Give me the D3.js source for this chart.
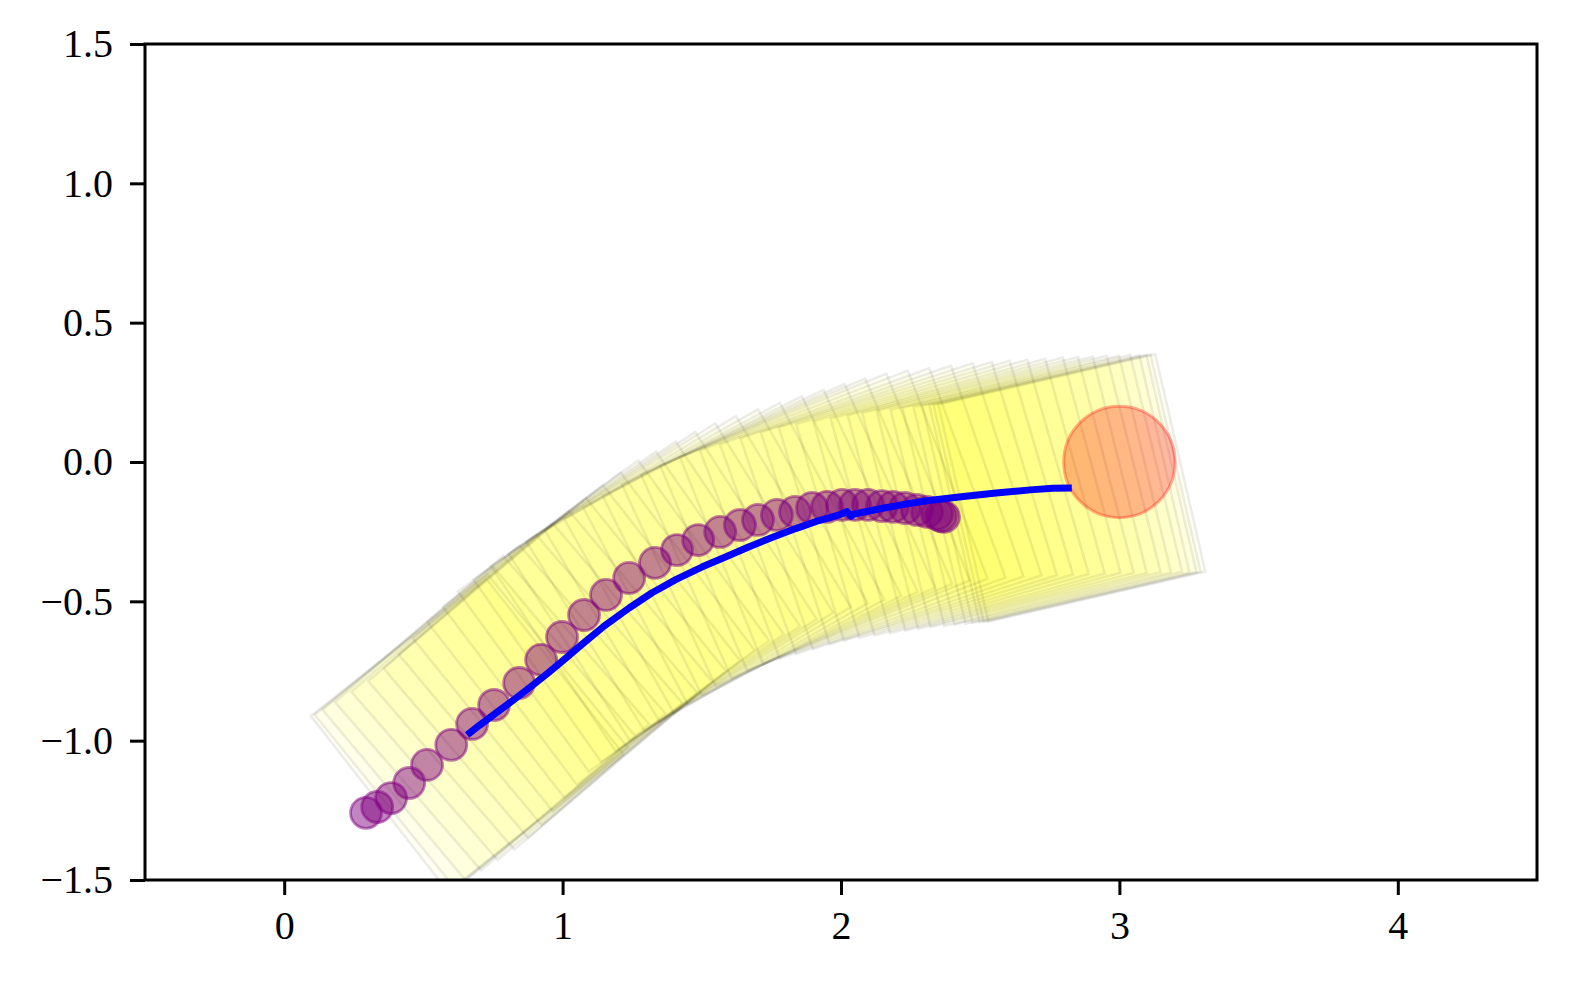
<!DOCTYPE html>
<html>
<head>
<meta charset="utf-8">
<script src="https://cdn.jsdelivr.net/npm/d3@7"></script>
<style>
  html, body { margin: 0; padding: 0; background: #ffffff; }
  svg { display: block; }
</style>
</head>
<body>
<svg id="chart" width="1570" height="982"></svg>
<script>
// ---------------- data ----------------
const xTicks = [0, 1, 2, 3, 4];
const yTicks = [-1.5, -1.0, -0.5, 0.0, 0.5, 1.0, 1.5];
const xDomain = [-0.5, 4.5];
const yDomain = [-1.5, 1.5];

// robot centre trajectory (blue line)
const pathX = [0.657, 0.700, 0.760, 0.825, 0.890, 0.950, 1.010, 1.070, 1.150, 1.239, 1.320, 1.408, 1.500, 1.587, 1.670, 1.752, 1.840, 1.921, 1.990, 2.022, 2.036, 2.045, 2.150, 2.233, 2.316, 2.440, 2.557, 2.680, 2.760, 2.829];
const pathY = [-0.980, -0.946, -0.901, -0.853, -0.803, -0.755, -0.705, -0.654, -0.588, -0.524, -0.470, -0.421, -0.377, -0.340, -0.304, -0.271, -0.238, -0.210, -0.191, -0.178, -0.195, -0.187, -0.166, -0.151, -0.138, -0.124, -0.111, -0.100, -0.094, -0.093];

// robot poses (square body frames)
const robotX = [0.657, 0.672, 0.701, 0.747, 0.806, 0.866, 0.921, 0.974, 1.025, 1.076, 1.130, 1.183, 1.237, 1.298, 1.359, 1.421, 1.486, 1.551, 1.615, 1.680, 1.744, 1.810, 1.875, 1.942, 2.010, 2.078, 2.147, 2.216, 2.276, 2.336, 2.395, 2.455, 2.514, 2.564, 2.613, 2.663, 2.703, 2.743, 2.772, 2.797, 2.812, 2.829];
const robotY = [-0.980, -0.966, -0.938, -0.901, -0.864, -0.826, -0.785, -0.739, -0.692, -0.644, -0.598, -0.553, -0.520, -0.482, -0.446, -0.413, -0.384, -0.356, -0.329, -0.301, -0.273, -0.248, -0.225, -0.204, -0.189, -0.176, -0.163, -0.150, -0.141, -0.134, -0.128, -0.122, -0.115, -0.111, -0.107, -0.104, -0.101, -0.098, -0.097, -0.095, -0.094, -0.093];
const robotHeading = [38, 39, 40, 41, 41, 41, 40.5, 40, 39, 38, 37, 36, 35, 34, 33, 32, 31, 29.5, 28, 26.5, 25, 24, 23, 22, 21, 20, 19, 18, 17, 16.5, 16, 15.5, 15, 14.5, 14, 14, 13.5, 13.5, 13, 13, 13, 13];
const robotSize = 0.8;

// tracked point trail (purple circles)
const trailX = [0.294, 0.334, 0.384, 0.449, 0.513, 0.600, 0.675, 0.754, 0.844, 0.923, 0.998, 1.077, 1.156, 1.239, 1.332, 1.411, 1.487, 1.566, 1.637, 1.702, 1.770, 1.835, 1.896, 1.950, 2.004, 2.050, 2.097, 2.147, 2.187, 2.230, 2.273, 2.309, 2.345, 2.359, 2.370];
const trailY = [-1.259, -1.238, -1.206, -1.152, -1.087, -1.015, -0.940, -0.872, -0.793, -0.710, -0.628, -0.549, -0.477, -0.416, -0.362, -0.316, -0.280, -0.251, -0.226, -0.208, -0.190, -0.179, -0.165, -0.161, -0.154, -0.154, -0.154, -0.158, -0.161, -0.165, -0.172, -0.179, -0.187, -0.194, -0.197];

// goal
const goalX = [3.0];
const goalY = [0.0];
const goalR = [0.2];

// ---------------- layout ----------------
const M = { left: 145, right: 1537, top: 44, bottom: 880 };
const svg = d3.select('#chart');
const x = d3.scaleLinear().domain(xDomain).range([M.left, M.right]);
const y = d3.scaleLinear().domain(yDomain).range([M.bottom, M.top]);

svg.append('defs').append('clipPath').attr('id', 'plotclip')
  .append('rect').attr('x', M.left).attr('y', M.top)
  .attr('width', M.right - M.left).attr('height', M.bottom - M.top);

const plot = svg.append('g').attr('clip-path', 'url(#plotclip)');

// robot frames
const frames = robotX.map((cx, i) => ({ cx, cy: robotY[i], th: robotHeading[i] * Math.PI / 180 }));
const h = robotSize / 2;
const local = [[-h, -h], [h, -h], [h, h], [-h, h]];
plot.append('g').selectAll('polygon').data(frames).join('polygon')
  .attr('points', d => local.map(([lx, ly]) => {
      const px = d.cx + lx * Math.cos(d.th) - ly * Math.sin(d.th);
      const py = d.cy + lx * Math.sin(d.th) + ly * Math.cos(d.th);
      return x(px) + ',' + y(py);
    }).join(' '))
  .attr('fill', '#ffff00').attr('fill-opacity', 0.042)
  .attr('stroke', '#000000').attr('stroke-opacity', 0.075)
  .attr('stroke-width', 2.6).attr('stroke-linejoin', 'miter');

// goal circle
const rPx = d => x(d) - x(0);
plot.append('g').selectAll('circle').data(goalX.map((gx, i) => ({ gx, gy: goalY[i], r: goalR[i] })))
  .join('circle')
  .attr('cx', d => x(d.gx)).attr('cy', d => y(d.gy)).attr('r', d => rPx(d.r))
  .attr('fill', '#ff0000').attr('fill-opacity', 0.28)
  .attr('stroke', '#ff0000').attr('stroke-opacity', 0.3).attr('stroke-width', 3);

// purple trail
plot.append('g').selectAll('circle').data(trailX.map((tx, i) => ({ tx, ty: trailY[i] })))
  .join('circle')
  .attr('cx', d => x(d.tx)).attr('cy', d => y(d.ty)).attr('r', 15.5)
  .attr('fill', '#800080').attr('fill-opacity', 0.48)
  .attr('stroke', '#800080').attr('stroke-opacity', 0.5).attr('stroke-width', 2.8);

// blue path
const line = d3.line().x(d => x(d[0])).y(d => y(d[1]));
plot.append('path').datum(pathX.map((px, i) => [px, pathY[i]]))
  .attr('d', line).attr('fill', 'none')
  .attr('stroke', '#0000ff').attr('stroke-width', 7)
  .attr('stroke-linejoin', 'round');

// ---------------- axes ----------------
const fmtY = v => (v < 0 ? '\u2212' : '') + Math.abs(v).toFixed(1);
const fmtX = v => (v < 0 ? '\u2212' : '') + Math.abs(v).toFixed(0);

const xAxis = svg.append('g').attr('transform', `translate(0,${M.bottom})`)
  .call(d3.axisBottom(x).tickValues(xTicks).tickFormat(fmtX).tickSize(15).tickSizeOuter(0).tickPadding(16));
const yAxis = svg.append('g').attr('transform', `translate(${M.left},0)`)
  .call(d3.axisLeft(y).tickValues(yTicks).tickFormat(fmtY).tickSize(15).tickSizeOuter(0).tickPadding(17));

[xAxis, yAxis].forEach(ax => {
  ax.select('.domain').remove();
  ax.selectAll('.tick line').attr('stroke', '#000').attr('stroke-width', 3);
  ax.selectAll('.tick text').attr('fill', '#000')
    .style('font-family', '"Liberation Serif", "DejaVu Serif", serif')
    .style('font-size', '40px');
});

svg.append('rect').attr('x', M.left).attr('y', M.top)
  .attr('width', M.right - M.left).attr('height', M.bottom - M.top)
  .attr('fill', 'none').attr('stroke', '#000').attr('stroke-width', 3);
</script>
</body>
</html>
